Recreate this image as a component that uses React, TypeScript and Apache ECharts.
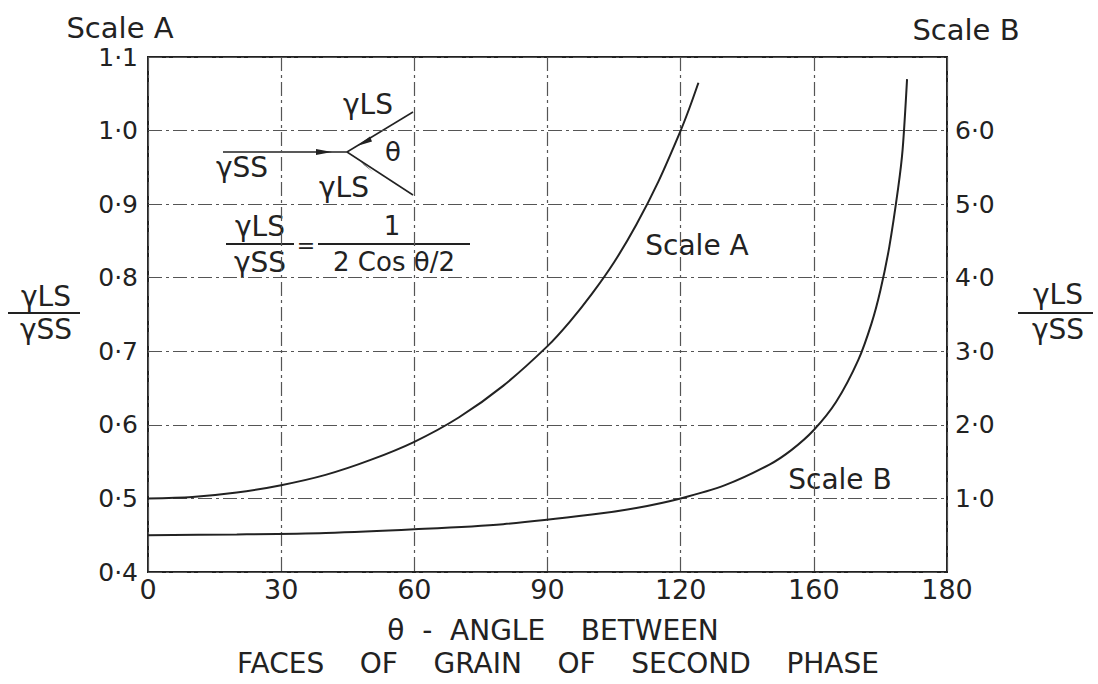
import React, { useEffect, useRef } from "react";
import * as echarts from "echarts";

// Curve A (read against Scale A, left axis)
const thetaA = [0, 10, 20, 30, 40, 50, 60, 70, 80, 90, 95, 100, 105, 110, 115, 120, 122, 124];
const ratioA = [0.5, 0.502, 0.508, 0.518, 0.532, 0.552, 0.577, 0.61, 0.653, 0.707, 0.74, 0.778, 0.821, 0.872, 0.931, 1.0, 1.031, 1.065];

// Curve B (read against Scale B, right axis)
const thetaB = [0, 20, 40, 60, 80, 100, 110, 120, 130, 140, 145, 150, 155, 160, 163, 165, 167, 169, 170, 171];
const ratioB = [0.5, 0.51, 0.53, 0.58, 0.65, 0.78, 0.87, 1.0, 1.18, 1.46, 1.66, 1.93, 2.31, 2.88, 3.38, 3.83, 4.42, 5.22, 5.74, 6.7];

// Tick labels as printed
const xTickLabels = ["0", "30", "60", "90", "120", "160", "180"];
const leftTickLabels = ["0·4", "0·5", "0·6", "0·7", "0·8", "0·9", "1·0", "1·1"];
const rightTickLabels = ["", "1·0", "2·0", "3·0", "4·0", "5·0", "6·0", ""];

const FONT = '"DejaVu Sans", sans-serif';
const INK = "#222";

export default function App() {
  const ref = useRef<HTMLDivElement>(null);

  useEffect(() => {
    if (!ref.current) return;
    const chart = echarts.init(ref.current, undefined, { renderer: "svg" });

    const gridStyle = { color: "#555", width: 1.2, type: [14, 4, 3, 4] as any };

    const txt = (text: string, x: number, y: number, size: number, align = "center") => ({
      type: "text",
      style: {
        text,
        x,
        y,
        font: `${size}px ${FONT}`,
        fill: INK,
        textAlign: align,
        textVerticalAlign: "middle",
      },
    });
    const ln = (x1: number, y1: number, x2: number, y2: number, w = 1.5) => ({
      type: "line",
      shape: { x1, y1, x2, y2 },
      style: { stroke: INK, lineWidth: w },
    });
    const poly = (pts: number[][]) => ({
      type: "polygon",
      shape: { points: pts },
      style: { fill: INK },
    });

    chart.setOption({
      animation: false,
      backgroundColor: "#fff",
      grid: {
        left: 148,
        right: 151,
        top: 57,
        bottom: 112,
        show: true,
        borderColor: INK,
        borderWidth: 2,
        containLabel: false,
      },
      xAxis: {
        type: "value",
        min: 0,
        max: 180,
        interval: 30,
        axisLine: { show: false },
        axisTick: { show: false },
        splitLine: { show: true, lineStyle: gridStyle },
        axisLabel: {
          fontFamily: FONT,
          fontSize: 27,
          color: INK,
          margin: 4,
          formatter: (v: number) => xTickLabels[Math.round(v / 30)],
        },
      },
      yAxis: [
        {
          type: "value",
          min: 0.4,
          max: 1.1,
          interval: 0.1,
          axisLine: { show: false },
          axisTick: { show: false },
          splitLine: { show: true, lineStyle: gridStyle },
          axisLabel: {
            fontFamily: FONT,
            fontSize: 25,
            color: INK,
            margin: 10,
            formatter: (v: number) => leftTickLabels[Math.round((v - 0.4) * 10)],
          },
        },
        {
          type: "value",
          position: "right",
          min: 0,
          max: 7,
          interval: 1,
          axisLine: { show: false },
          axisTick: { show: false },
          splitLine: { show: false },
          axisLabel: {
            fontFamily: FONT,
            fontSize: 25,
            color: INK,
            margin: 8,
            formatter: (v: number) => rightTickLabels[Math.round(v)],
          },
        },
      ],
      series: [
        {
          type: "line",
          name: "Scale A",
          yAxisIndex: 0,
          data: thetaA.map((t, i) => [t, ratioA[i]]),
          smooth: 0.3,
          showSymbol: false,
          lineStyle: { color: INK, width: 2 },
        },
        {
          type: "line",
          name: "Scale B",
          yAxisIndex: 1,
          data: thetaB.map((t, i) => [t, ratioB[i]]),
          smooth: 0.3,
          showSymbol: false,
          lineStyle: { color: INK, width: 2 },
        },
      ],
      graphic: [
        txt("Scale A", 120, 28, 29),
        txt("Scale B", 966, 30, 29),
        // left axis name
        txt("γLS", 46, 296, 28),
        ln(8, 313, 80, 313, 2),
        txt("γSS", 46, 329, 28),
        // right axis name
        txt("γLS", 1058, 294, 28),
        ln(1018, 313, 1093, 313, 2),
        txt("γSS", 1058, 329, 28),
        // x axis title
        txt("θ  -  ANGLE    BETWEEN", 553, 630, 28),
        txt("FACES    OF    GRAIN    OF    SECOND    PHASE", 558, 663, 28),
        // curve labels
        txt("Scale A", 697, 245, 28),
        txt("Scale B", 840, 479, 28),
        // inset diagram
        ln(223, 152, 347, 152, 1.5),
        poly([[316, 149], [332, 152], [316, 155]]),
        ln(347, 152, 413, 112, 1.5),
        poly([[357, 146], [370, 136.5], [372, 141.5]]),
        ln(347, 152, 413, 195, 1.5),
        poly([[373, 172], [360, 160.5], [364, 165]]),
        txt("γLS", 368, 104, 28),
        txt("γSS", 242, 167, 28),
        txt("θ", 393, 152, 26),
        txt("γLS", 344, 187, 28),
        // formula
        txt("γLS", 260, 226, 28),
        ln(226, 244, 294, 244, 2),
        txt("γSS", 260, 262, 28),
        txt("=", 306, 245, 22),
        txt("1", 392, 226, 26),
        ln(318, 244, 470, 244, 2),
        txt("2 Cos θ/2", 394, 262, 26),
      ],
    });

    return () => chart.dispose();
  }, []);

  return (
    <div
      ref={ref}
      style={{ position: "fixed", left: 0, top: 0, width: 1098, height: 684, background: "#fff" }}
    />
  );
}
